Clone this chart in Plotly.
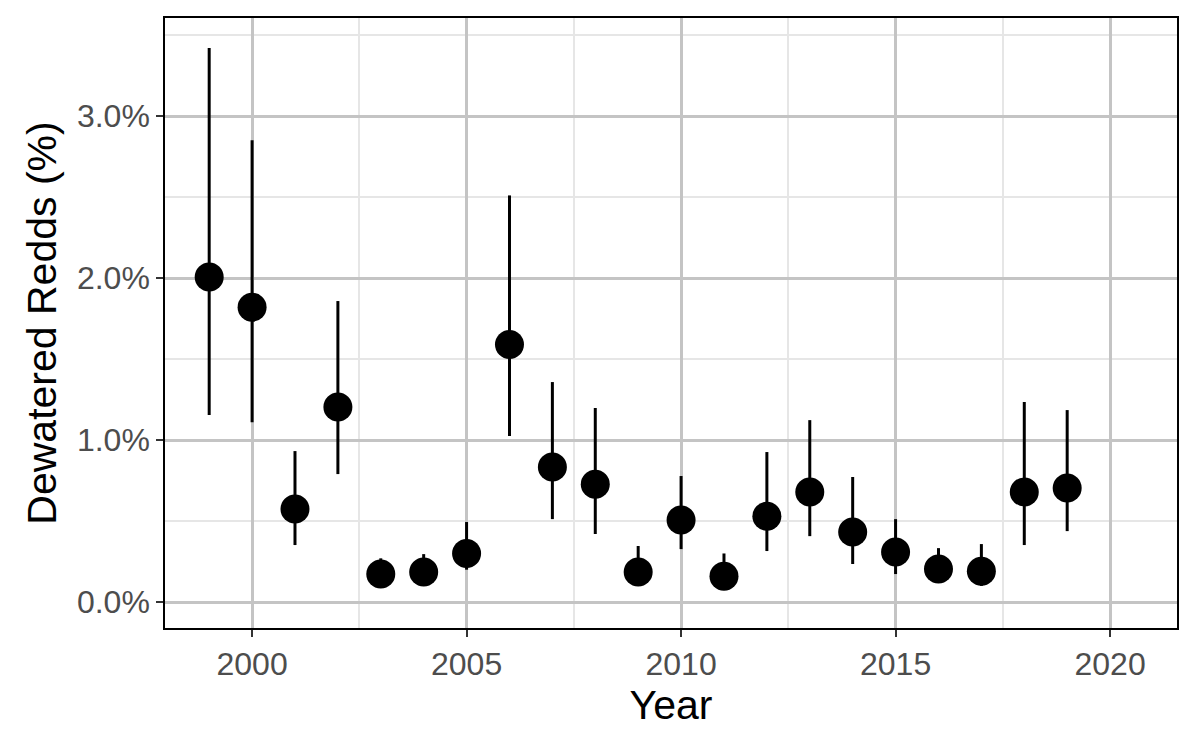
import plotly.graph_objects as go

years = list(range(1999, 2020))
pct = [2.006, 1.82, 0.574, 1.204, 0.173, 0.185, 0.30, 1.59, 0.833, 0.728, 0.185,
       0.506, 0.16, 0.53, 0.68, 0.432, 0.309, 0.204, 0.19, 0.68, 0.704]
upper = [3.42, 2.85, 0.932, 1.858, 0.27, 0.296, 0.494, 2.51, 1.358, 1.198, 0.346,
         0.778, 0.30, 0.926, 1.123, 0.772, 0.512, 0.333, 0.358, 1.235, 1.185]
lower = [1.154, 1.11, 0.352, 0.79, 0.12, 0.13, 0.2, 1.025, 0.512, 0.42, 0.12,
         0.327, 0.11, 0.315, 0.407, 0.235, 0.173, 0.14, 0.1, 0.352, 0.438]
x_ticks = [2000, 2005, 2010, 2015, 2020]
y_ticks = [0, 1, 2, 3]
y_labels = ["0.0%", "1.0%", "2.0%", "3.0%"]

fig = go.Figure()
fig.add_trace(go.Scatter(
    x=years, y=pct, mode="markers",
    marker=dict(size=29, color="black"),
    error_y=dict(type="data", symmetric=False,
                 array=[u - p for u, p in zip(upper, pct)],
                 arrayminus=[p - l for p, l in zip(pct, lower)],
                 color="black", thickness=3, width=0),
    showlegend=False,
))

font = "Liberation Sans, Arial, sans-serif"
fig.update_layout(
    width=1200, height=750,
    margin=dict(l=165, r=23, t=18, b=122),
    plot_bgcolor="white", paper_bgcolor="white",
    font=dict(family=font),
    xaxis=dict(
        range=[1997.97, 2021.56], tickvals=x_ticks,
        showgrid=True, gridcolor="#C4C4C4", gridwidth=3,
        minor=dict(dtick=2.5, tick0=1997.5, showgrid=True, gridcolor="#E6E6E6", gridwidth=1.5),
        showline=True, linecolor="black", linewidth=1.5, mirror=True,
        ticks="outside", ticklen=7, tickwidth=2, tickcolor="#333333",
        tickfont=dict(size=32, color="#4D4D4D"),
        title=dict(text="Year", font=dict(size=41, color="black"), standoff=4),
        zeroline=False,
    ),
    yaxis=dict(
        range=[-0.16, 3.605], tickvals=y_ticks, ticktext=y_labels,
        showgrid=True, gridcolor="#C4C4C4", gridwidth=3,
        minor=dict(dtick=0.5, tick0=0.5, showgrid=True, gridcolor="#E6E6E6", gridwidth=1.5),
        showline=True, linecolor="black", linewidth=1.5, mirror=True,
        ticks="outside", ticklen=7, tickwidth=2, tickcolor="#333333",
        tickfont=dict(size=32, color="#4D4D4D"),
        title=dict(text="Dewatered Redds (%)", font=dict(size=41, color="black"), standoff=8),
        zeroline=False,
    ),
)

fig.write_html("out.html")
